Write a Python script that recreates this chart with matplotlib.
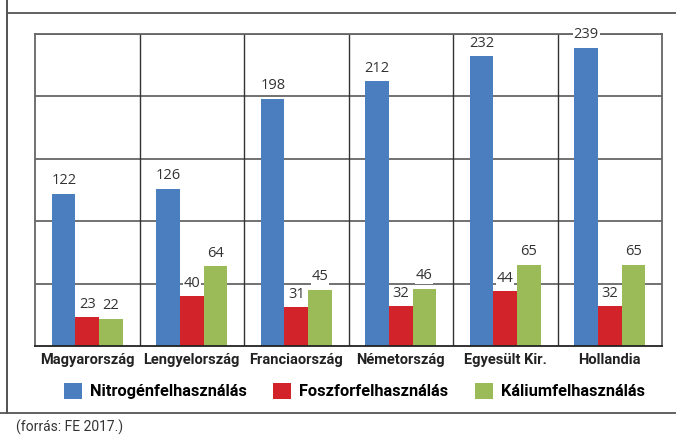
"""
Műtrágya-felhasználás országonként — grouped bar chart recreation.
"""
import matplotlib
matplotlib.use("Agg")
import matplotlib.pyplot as plt
from matplotlib.lines import Line2D
from matplotlib.patches import Patch
import numpy as np

# ── Data ─────────────────────────────────────────────────────────────────────
countries = ["Magyarország", "Lengyelország", "Franciaország",
             "Németország", "Egyesült Kir.", "Hollandia"]
nitrogen = [122, 126, 198, 212, 232, 239]
phosphor = [23, 40, 31, 32, 44, 32]
potassium = [22, 64, 45, 46, 65, 65]
series_names = ["Nitrogénfelhasználás", "Foszforfelhasználás", "Káliumfelhasználás"]
footer = "(forrás: FE 2017.)"

COLORS = ["#4A7EBF", "#D2232A", "#9BBB59"]
LABEL_FONT = ["Roboto", "DejaVu Sans"]
LINE_GRAY = "#666666"

fig = plt.figure(figsize=(6.76, 4.36), dpi=100)
ax = fig.add_axes([35 / 676, 1 - 346 / 436, 627 / 676, 312 / 436])

x = np.arange(len(countries))
width = 0.225
series = [nitrogen, phosphor, potassium]

# gridlines + group separators
ax.set_ylim(0, 250)
ax.set_xlim(-0.5, len(countries) - 0.5)
for y in range(50, 251, 50):
    ax.axhline(y, color=LINE_GRAY, linewidth=1.3, zorder=0)
for i in range(1, len(countries)):
    ax.axvline(i - 0.5, color="#333333", linewidth=1.0, zorder=0)

for k, (vals, color) in enumerate(zip(series, COLORS)):
    pos = x + (k - 1) * width
    ax.bar(pos, vals, width=width, color=color, zorder=2)
    for p, v in zip(pos, vals):
        ax.annotate(str(v), xy=(p, v), xytext=(0, 4), textcoords="offset points",
                    ha="center", va="bottom", fontsize=10.5, color="#333333",
                    family=["Open Sans", "DejaVu Sans"], zorder=3,
                    bbox=dict(boxstyle="square,pad=0.05", fc="white", ec="none"))

ax.set_xticks(x)
ax.set_xticklabels(countries, fontsize=10.5, fontweight="bold", family=LABEL_FONT,
                   color="#222222")
ax.tick_params(axis="x", length=0, pad=5)
ax.set_yticks([])
for side in ["left", "right", "top"]:
    ax.spines[side].set_color(LINE_GRAY)
    ax.spines[side].set_linewidth(1.3)
ax.spines["bottom"].set_color("#222222")
ax.spines["bottom"].set_linewidth(1.3)

# legend
handles = [Patch(facecolor=c, edgecolor="none") for c in COLORS]
fig.legend(handles, series_names, loc="center", bbox_to_anchor=(0.524, 1 - 391 / 436),
           ncol=3, frameon=False, handlelength=1.1, handleheight=1.1,
           handletextpad=0.5, columnspacing=1.6,
           prop={"family": LABEL_FONT, "weight": "bold", "size": 11.8})

# outer frame
fig.add_artist(Line2D([7 / 676, 7 / 676], [1 - 413 / 436, 1], color="#444444", linewidth=1.3))
fig.add_artist(Line2D([7 / 676, 1], [1 - 13 / 436, 1 - 13 / 436], color="#555555", linewidth=1.3))
fig.add_artist(Line2D([0, 1], [1 - 413 / 436, 1 - 413 / 436], color="#555555", linewidth=1.3))

fig.text(16 / 676, 1 - 427 / 436, footer, ha="left", va="center", fontsize=10,
         family=LABEL_FONT, color="#333333")

fig.savefig("out.png", dpi=100)
